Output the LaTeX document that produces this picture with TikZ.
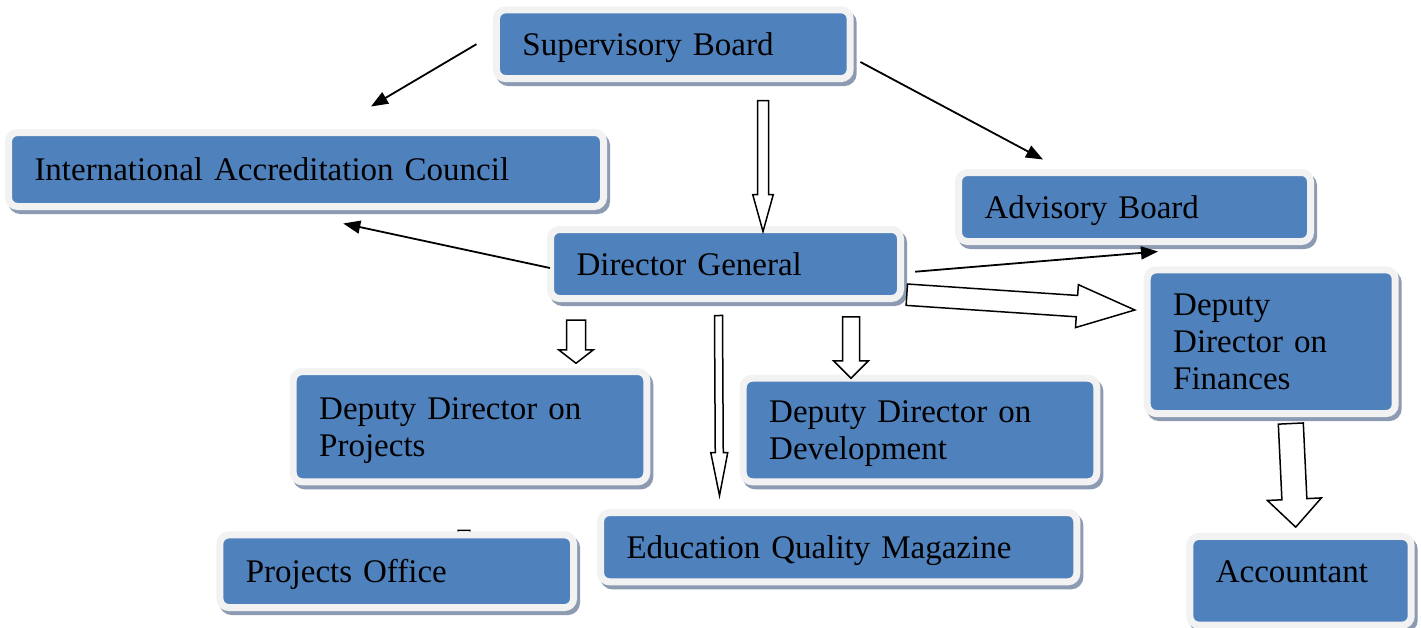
\documentclass[tikz,border=0pt]{standalone}
\usepackage{fontspec}
\setmainfont{Liberation Serif}
\usetikzlibrary{positioning,
        calc,
        arrows.meta}
\usepackage{xcolor}
\definecolor{boxblue}{RGB}{79,129,189}
\definecolor{rimgray}{RGB}{242,242,242}
\definecolor{shadowgray}{RGB}{140,155,178}
% hollow block arrow: start, tip, shaft half width, head half width, head length
\newcommand{\fatarrow}[5]{%
  \coordinate (fa-neck) at ($(#2)!#5!(#1)$);
  \draw[hollow] ($(#1)!#3!90:(#2)$) -- ($(fa-neck)!#3!90:(#2)$) -- ($(fa-neck)!#4!90:(#2)$) -- (#2)
     -- ($(fa-neck)!#4!-90:(#2)$) -- ($(fa-neck)!#3!-90:(#2)$) -- ($(#1)!#3!-90:(#2)$) -- cycle;}

\begin{document}
\begin{tikzpicture}[x=1pt, y=-1pt,
    unit/.style={rectangle, rounded corners=9pt, draw=rimgray, line width=7pt, fill=boxblue,
        preaction={draw=shadowgray, fill=shadowgray, line width=7pt,
            transform canvas={xshift=3pt, yshift=-4pt}},
        align=left, inner xsep=26pt, text depth=0pt,
        font=\fontsize{33}{37}\selectfont},
    link/.style={line width=1.8pt, -{Triangle[length=17pt, width=13pt]}},
    hollow/.style={draw=black, fill=white, line width=1.5pt, line join=miter}]
    \useasboundingbox (0,0) rectangle (1421,627);

    \node [unit, text width=301.7pt, minimum height=68.7pt] (sb) at (673.3,44.2) {Supervisory Board};
    \node [unit, text width=543pt, minimum height=74pt] (iac) at (306,169.5) {International Accreditation Council};
    \node [unit, text width=300pt, minimum height=69pt] (ab) at (1134.5,207) {Advisory Board};
    \node [unit, text width=298pt, minimum height=69pt] (dg) at (725.5,264) {Director General};
    \node [unit, text width=196pt, minimum height=143.7pt, text depth=74pt] (ddf) at (1271.2,341.7) {Deputy\\Director on\\Finances};
    \node [unit, text width=301.6pt, minimum height=110.3pt, text depth=37pt] (ddp) at (470,426.7) {Deputy Director on\\Projects};
    \node [unit, text width=301.6pt, minimum height=103.6pt, text depth=37pt] (ddd) at (920,430) {Deputy Director on\\Development};
    \node [unit, text width=424.3pt, minimum height=69.3pt] (eqm) at (838.7,547.2) {Education Quality Magazine};

    % mostly hidden behind the office box
    \coordinate (ddp-po-a) at ($(ddp.south)+(-6,44.9)$);
    \coordinate (ddp-po-b) at ($(ddp.south)+(-6,78)$);
    \fatarrow{ddp-po-a}{ddp-po-b}{5.8pt}{11pt}{15pt}

    \node [unit, text width=301.7pt, minimum height=72.7pt] (po) at (396.7,571.2) {Projects Office};
    \node [unit, text width=169.4pt, minimum height=88.7pt, text depth=18.7pt] (acc) at (1300.5,580.8) {Accountant};

    % thin arrows
    \draw [link] ($(sb.west)+(-16.5,0)$) -- ($(iac.north)+(65,-22.5)$);
    \draw [link] ($(sb.east)+(6.8,17.8)$) -- ($(ab.north)+(-91.5,-9.5)$);
    \draw [link] ($(dg.west)+(3,4)$) -- ($(iac.south)+(37.3,13.5)$);
    \draw [link] ($(dg.east)+(11.2,7.7)$) -- ($(ab.south)+(23.5,6.5)$);

    % block arrows
    \coordinate (sb-dg-a) at ($(sb.south)+(89.7,18.5)$);
    \coordinate (sb-dg-b) at ($(dg.north)+(37.5,5.5)$);
    \fatarrow{sb-dg-a}{sb-dg-b}{5.5pt}{10.3pt}{37pt}
    \coordinate (dg-ddf-a) at ($(dg.south east)+(2.8,-7.3)$);
    \coordinate (dg-ddf-b) at ($(ddf.west)+(-8.9,-31.7)$);
    \fatarrow{dg-ddf-a}{dg-ddf-b}{10.7pt}{21.5pt}{58pt}
    \coordinate (dg-ddp-a) at ($(dg.south)+(-149.5,18.2)$);
    \coordinate (dg-ddp-b) at ($(ddp.north)+(106,-4.8)$);
    \fatarrow{dg-ddp-a}{dg-ddp-b}{9.5pt}{17.3pt}{13.4pt}
    \coordinate (dg-eqm-a) at ($(dg.south)+(-7,13.5)$);
    \coordinate (dg-eqm-b) at ($(eqm.north)+(-119.2,-13.5)$);
    \fatarrow{dg-eqm-a}{dg-eqm-b}{4pt}{8.5pt}{43pt}
    \coordinate (dg-ddd-a) at ($(dg.south)+(125.5,14.8)$);
    \coordinate (dg-ddd-b) at ($(ddd.north)+(-69,3.5)$);
    \fatarrow{dg-ddd-a}{dg-ddd-b}{8.5pt}{17.5pt}{17.4pt}
    \coordinate (ddf-acc-a) at ($(ddf.south)+(19.6,6.5)$);
    \coordinate (ddf-acc-b) at ($(acc.north)+(-4.8,-5.8)$);
    \fatarrow{ddf-acc-a}{ddf-acc-b}{12.5pt}{27pt}{28pt}
\end{tikzpicture}
\end{document}
